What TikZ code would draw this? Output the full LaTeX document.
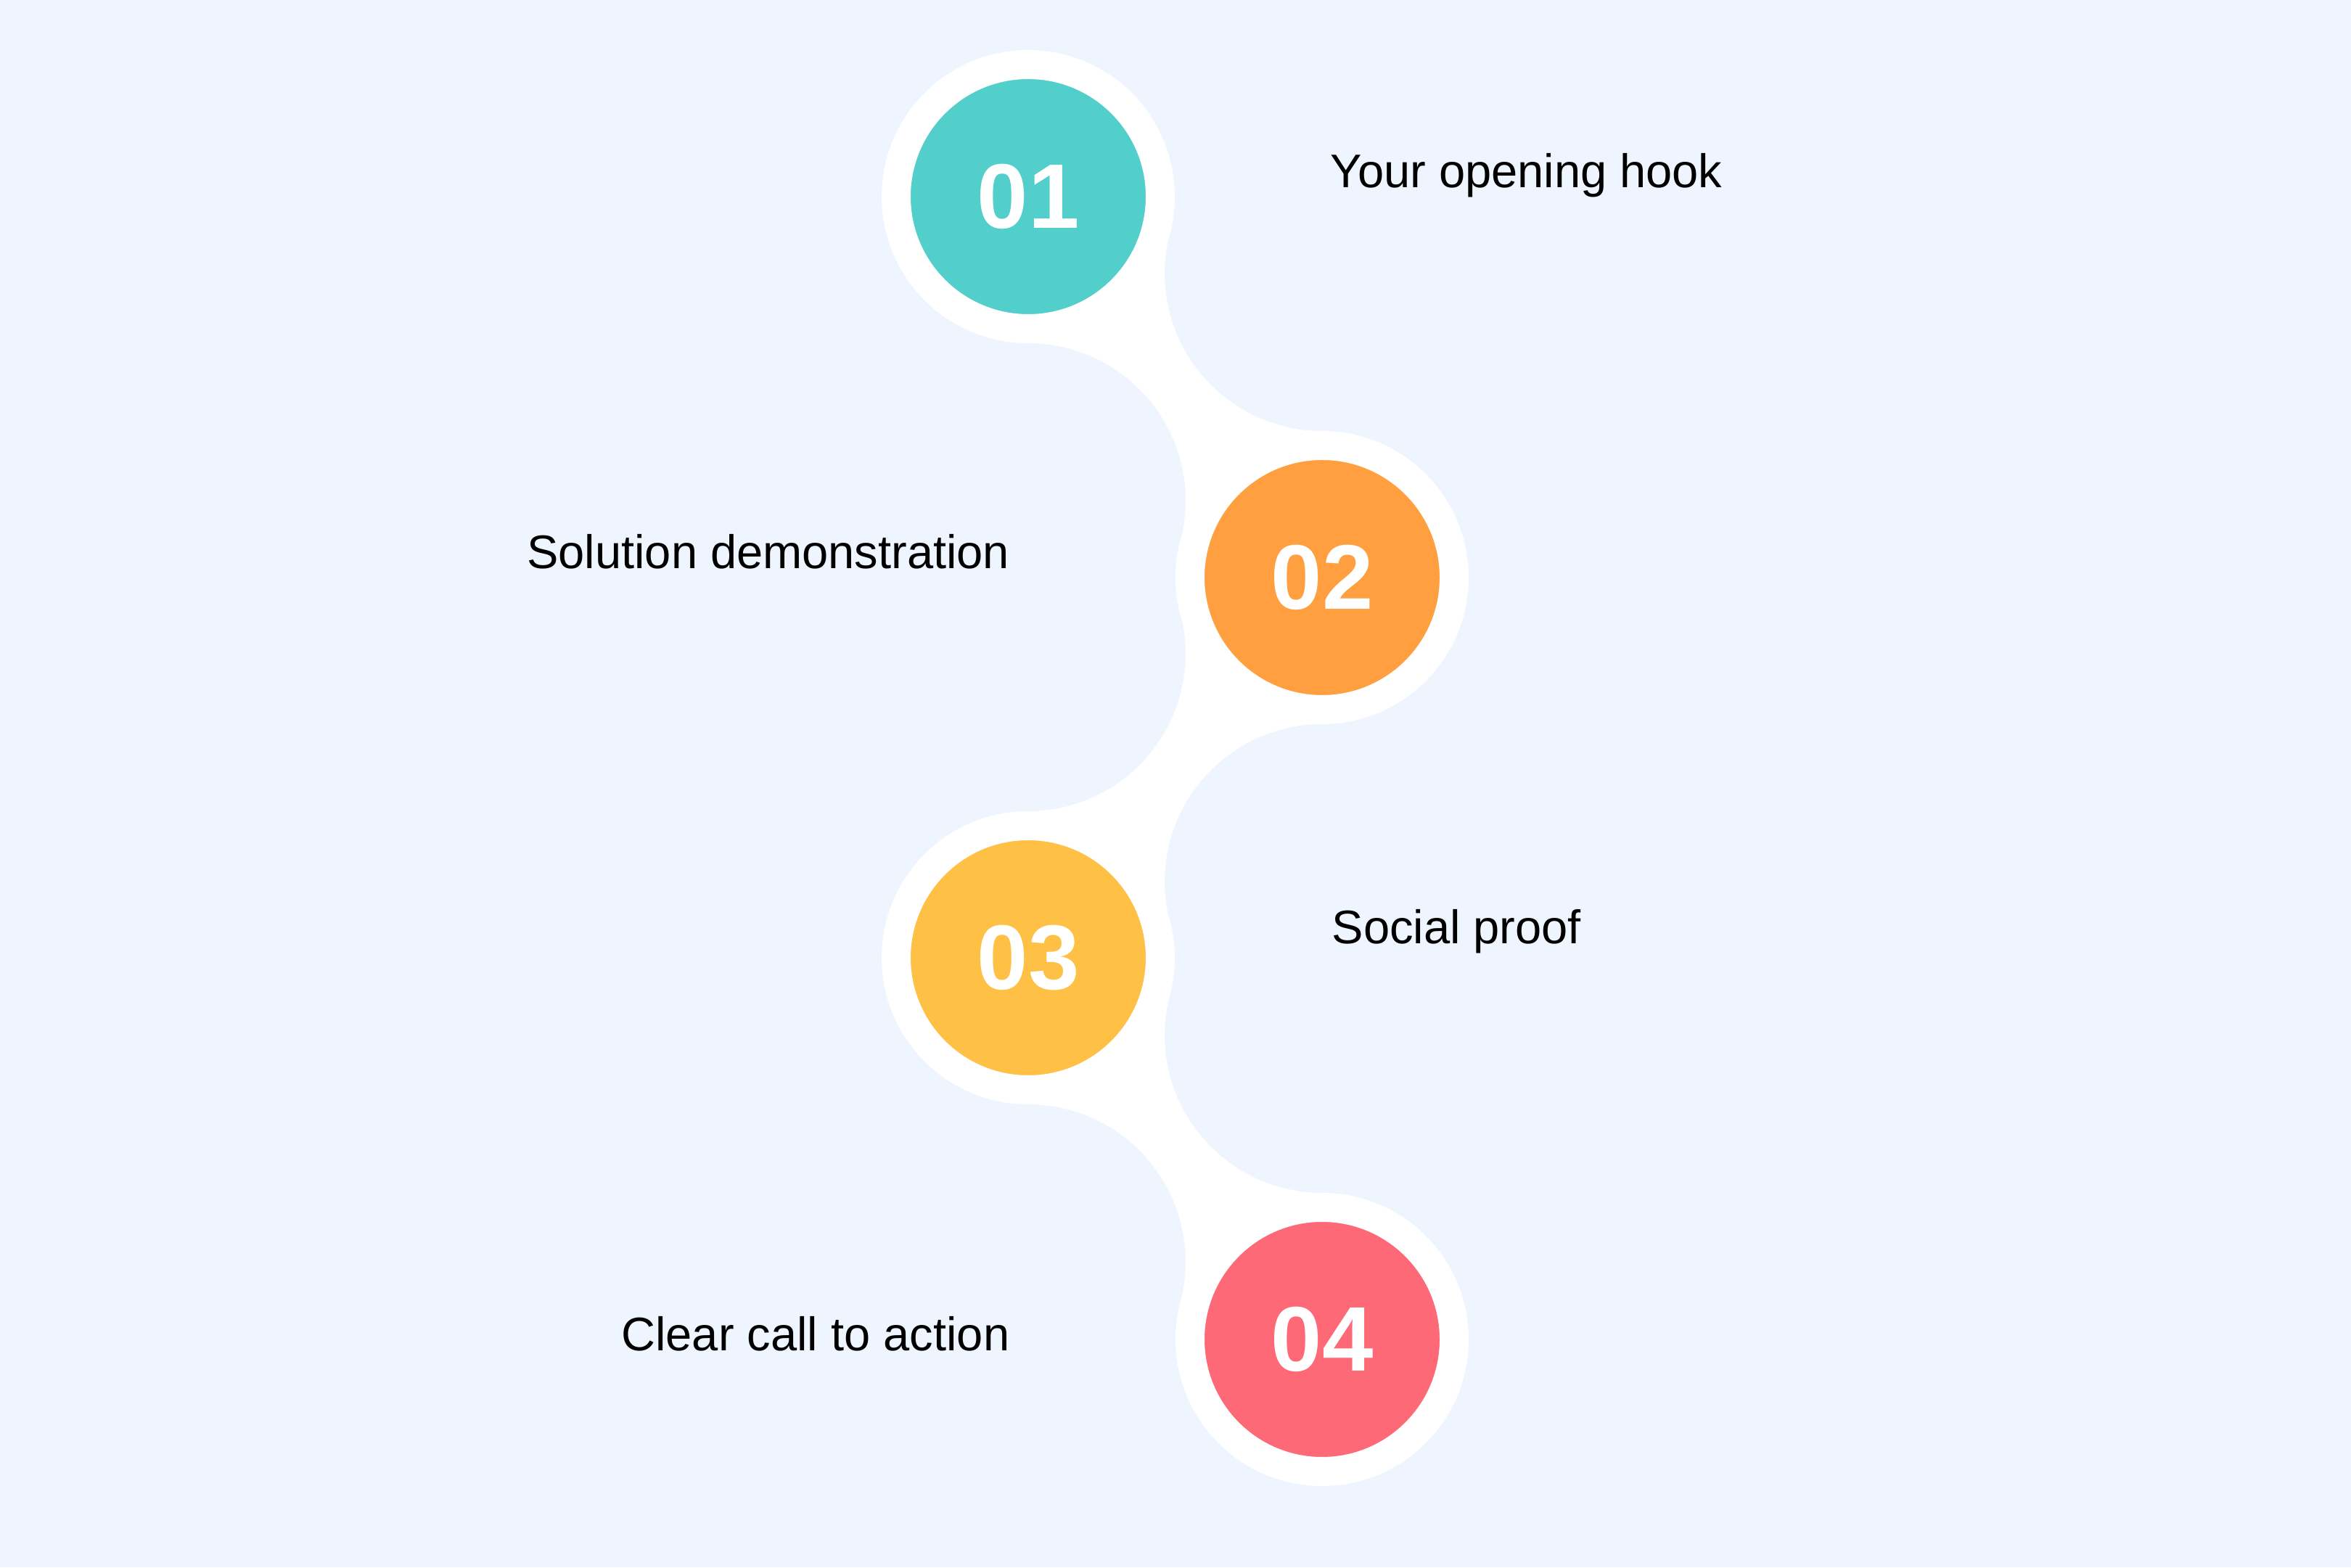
\documentclass[tikz,border=0pt]{standalone}
\usepackage{fontspec}
\setmainfont{Liberation Sans}
\usepackage{tikz}
\definecolor{bgblue}{HTML}{EFF5FE}
\definecolor{stepteal}{HTML}{52CFCA}
\definecolor{steporange}{HTML}{FF9F40}
\definecolor{stepyellow}{HTML}{FFC145}
\definecolor{stepred}{HTML}{FD6977}
\tikzset{
  numdisc/.style={circle, draw=white, line width=4mm, minimum size=36.4mm,
    inner sep=0pt, text=white, font=\fontsize{36pt}{40pt}\selectfont\bfseries},
  steplabel/.style={inner sep=0pt, text=black, font=\fontsize{18.5pt}{22pt}\selectfont},
  bridge/.style={fill=white}
}
\newcommand{\carve}{2.17}

\begin{document}
\begin{tikzpicture}
\fill[bgblue] (0,0) rectangle (32.4,21.6);
\useasboundingbox (0,0) rectangle (32.4,21.6);

\coordinate (c1) at (14.17,18.89);
\coordinate (c2) at (18.22,13.64);
\coordinate (c3) at (14.17,8.40);
\coordinate (c4) at (18.22,3.14);

% centres of the round cut-outs beside each bridge
\coordinate (k12r) at (18.22,17.83);
\coordinate (k12l) at (14.17,14.70);
\coordinate (k23r) at (18.22,9.45);
\coordinate (k23l) at (14.17,12.59);
\coordinate (k34r) at (18.22,7.33);
\coordinate (k34l) at (14.17,4.21);

\fill[bridge] (c1) -- ([shift={(165.3:\carve)}]k12r) arc[start angle=165.3, end angle=270, radius=\carve]
  -- (c2) -- ([shift={(-14.7:\carve)}]k12l) arc[start angle=-14.7, end angle=90, radius=\carve] -- cycle;
\fill[bridge] (c2) -- ([shift={(90:\carve)}]k23r) arc[start angle=90, end angle=194.5, radius=\carve]
  -- (c3) -- ([shift={(270:\carve)}]k23l) arc[start angle=270, end angle=374.5, radius=\carve] -- cycle;
\fill[bridge] (c3) -- ([shift={(165.2:\carve)}]k34r) arc[start angle=165.2, end angle=270, radius=\carve]
  -- (c4) -- ([shift={(-14.8:\carve)}]k34l) arc[start angle=-14.8, end angle=90, radius=\carve] -- cycle;

\node[numdisc, fill=stepteal] (n1) at (c1) {01};
\node[numdisc, fill=steporange] (n2) at (c2) {02};
\node[numdisc, fill=stepyellow] (n3) at (c3) {03};
\node[numdisc, fill=stepred] (n4) at (c4) {04};

\node[steplabel, anchor=base west] (t1) at (18.33,19.01) {Your opening hook};
\node[steplabel, anchor=base east] (t2) at (13.92,13.76) {Solution demonstration};
\node[steplabel, anchor=base west] (t3) at (18.35,8.59) {Social proof};
\node[steplabel, anchor=base east] (t4) at (13.92,2.98) {Clear call to action};
\end{tikzpicture}
\end{document}
